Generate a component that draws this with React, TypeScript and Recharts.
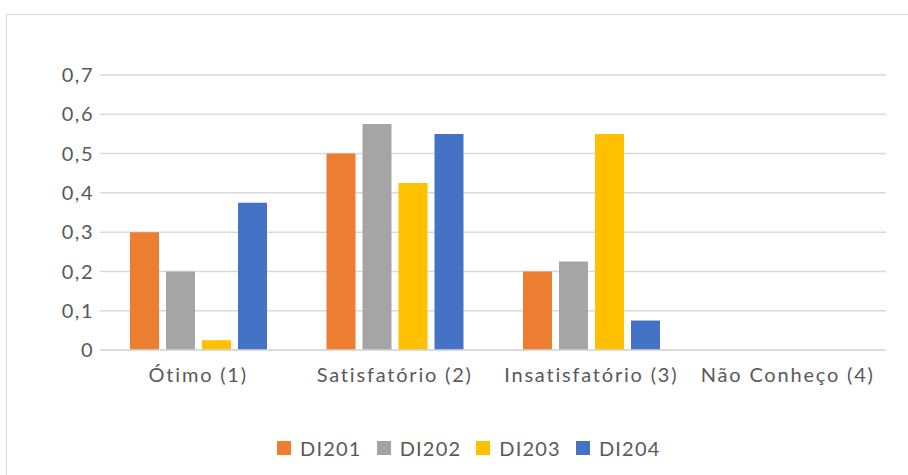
import React from "react";
import { Bar, BarChart, CartesianGrid, Legend, XAxis, YAxis } from "recharts";

const categories = ["Ótimo (1)", "Satisfatório (2)", "Insatisfatório (3)", "Não Conheço (4)"];
const di201 = [0.3, 0.5, 0.2, 0];
const di202 = [0.2, 0.575, 0.225, 0];
const di203 = [0.025, 0.425, 0.55, 0];
const di204 = [0.375, 0.55, 0.075, 0];
const yTicks = [0, 0.1, 0.2, 0.3, 0.4, 0.5, 0.6, 0.7];

const series = [
  { key: "DI201", color: "#ED7D31" },
  { key: "DI202", color: "#A5A5A5" },
  { key: "DI203", color: "#FFC000" },
  { key: "DI204", color: "#4472C4" },
];

const data = categories.map((name, i) => ({
  name,
  DI201: di201[i],
  DI202: di202[i],
  DI203: di203[i],
  DI204: di204[i],
}));

const FONT = "Lato, 'Open Sans', sans-serif";
const TEXT = "#595959";

const fmt = (v: number) => (v === 0 ? "0" : v.toFixed(1).replace(".", ","));

// square swatches + labels, laid out like the Office legend
function LegendRow() {
  return (
    <div style={{ display: "flex", alignItems: "center", height: 24, fontFamily: FONT, fontSize: 20, letterSpacing: 1.2, color: TEXT }}>
      {series.map((s) => (
        <div key={s.key} style={{ display: "flex", alignItems: "center", marginRight: 15 }}>
          <span style={{ display: "inline-block", width: 14, height: 14, background: s.color, marginRight: 9 }} />
          <span style={{ lineHeight: "24px" }}>{s.key}</span>
        </div>
      ))}
    </div>
  );
}

export default function App() {
  return (
    <div style={{ position: "absolute", left: 0, top: 0, width: 908, height: 475, overflow: "hidden", background: "#fff" }}>
      <style>{`body{margin:0}`}</style>
      <div
        style={{
          position: "absolute",
          left: 6,
          top: 14,
          width: 940,
          height: 500,
          border: "1.5px solid #D9D9D9",
          boxSizing: "border-box",
        }}
      >
        <BarChart
          width={900}
          height={470}
          data={data}
          margin={{ top: 60, right: 21, left: 0, bottom: 71 }}
          barSize={29}
          barGap={7}
        >
          <CartesianGrid vertical={false} stroke="#D9D9D9" strokeWidth={1.5} />
          <XAxis
            dataKey="name"
            height={40}
            axisLine={{ stroke: "#D9D9D9", strokeWidth: 1.5 }}
            tickLine={false}
            tickMargin={12}
            tick={{ fontSize: 20, fill: TEXT, fontFamily: FONT, letterSpacing: 1.8 }}
            interval={0}
          />
          <YAxis
            width={93}
            domain={[0, 0.7]}
            ticks={yTicks}
            tickFormatter={fmt}
            axisLine={false}
            tickLine={false}
            tickMargin={0}
            tick={{ fontSize: 20, fill: TEXT, fontFamily: FONT, letterSpacing: 1.5 }}
          />
          <Legend
            content={() => <LegendRow />}
            wrapperStyle={{ position: "absolute", top: 421, left: 270, width: "auto" }}
          />
          {series.map((s) => (
            <Bar key={s.key} dataKey={s.key} fill={s.color} isAnimationActive={false} />
          ))}
        </BarChart>
      </div>
    </div>
  );
}
